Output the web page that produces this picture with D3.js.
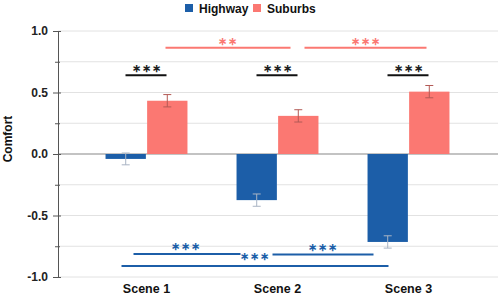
<!DOCTYPE html>
<html>
<head>
<meta charset="utf-8">
<script src="https://cdn.jsdelivr.net/npm/d3@7"></script>
<style>
  body { margin: 0; background: #fff; }
  text { font-family: "Liberation Sans", Arial, sans-serif; }
</style>
</head>
<body>
<div class="chart"></div>
<script>
// data
let scenes = ["Scene 1", "Scene 2", "Scene 3"];
let groups = ["Highway", "Suburbs"];
let highway = [-0.04, -0.375, -0.715];
let highwayErr = [0.048, 0.05, 0.05];
let suburbs = [0.433, 0.31, 0.507];
let suburbsErr = [0.05, 0.05, 0.05];
let yTicks = [-1.0, -0.75, -0.5, -0.25, 0, 0.25, 0.5, 0.75, 1.0];
// significance brackets
let sigWithin = [0.64, 0.64, 0.64];
let sigSuburbs = [
    {from: 0, to: 1, y: 0.864, label: "**"},
    {from: 1, to: 2, y: 0.864, label: "***"}
];
let sigHighway = [
    {from: 0, to: 1, y: -0.813, label: "***", level: 0},
    {from: 1, to: 2, y: -0.818, label: "***", level: 0},
    {from: 0, to: 2, y: -0.91, label: "***", level: 1}
];

let colors = {Highway: "#1c5ea8", Suburbs: "#fb7872"};
let W = 498, H = 296;

let svg = d3.select(".chart")
    .append("svg")
    .attr("width", W)
    .attr("height", H)

let y = d3.scaleLinear().domain([-1, 1]).range([277, 31]);
let x = d3.scaleBand().domain(scenes).range([81, 474]).paddingInner(0).paddingOuter(0);
let xs = d3.scaleBand().domain(groups).range([0, x.bandwidth()]).paddingInner(0.03).paddingOuter(0.59);

// gridlines
svg.append("g")
    .selectAll("line")
    .data(yTicks)
    .enter()
    .append("line")
    .attr("x1", 58)
    .attr("x2", W)
    .attr("y1", d => y(d))
    .attr("y2", d => y(d))
    .attr("stroke", d => d === 0 ? "#888" : "#e2e2e2")
    .attr("stroke-width", d => d === 0 ? 1.2 : 1)

// y axis
let isMajor = d => Math.abs(d * 2) % 1 === 0;
let yAxis = d3.axisLeft(y)
    .tickValues(yTicks)
    .tickSize(3)
    .tickFormat(d => isMajor(d) ? d3.format(".1f")(d).replace("−", "-") : "")
let ga = svg.append("g")
    .attr("transform", "translate(58,0)")
    .call(yAxis)
ga.select(".domain").attr("stroke", "#555")
ga.selectAll(".tick line").attr("stroke", "#555").attr("x2", d => isMajor(d) ? -5 : -3).attr("x1", d => isMajor(d) ? 3 : 2)
ga.selectAll(".tick text")
    .attr("x", -10)
    .attr("font-size", 12)
    .attr("font-weight", "bold")
    .attr("fill", "#222")
    .style("font-family", "'Liberation Sans', Arial, sans-serif")

// bars
let barData = [];
scenes.forEach(function (s, i) {
    barData.push({scene: s, group: "Highway", value: highway[i], err: highwayErr[i]});
    barData.push({scene: s, group: "Suburbs", value: suburbs[i], err: suburbsErr[i]});
})

svg.append("g")
    .selectAll("rect")
    .data(barData)
    .enter()
    .append("rect")
    .attr("x", d => x(d.scene) + xs(d.group))
    .attr("width", xs.bandwidth())
    .attr("y", d => y(Math.max(0, d.value)))
    .attr("height", d => Math.abs(y(d.value) - y(0)))
    .attr("fill", d => colors[d.group])

// error bars
let eb = svg.append("g")
    .selectAll("g")
    .data(barData)
    .enter()
    .append("g")
    .attr("stroke", d => d.group === "Highway" ? "#a9b4c4" : "#b35a55")
    .attr("stroke-width", 1)
eb.append("line")
    .attr("x1", d => x(d.scene) + xs(d.group) + xs.bandwidth() / 2)
    .attr("x2", d => x(d.scene) + xs(d.group) + xs.bandwidth() / 2)
    .attr("y1", d => y(d.value + d.err))
    .attr("y2", d => y(d.value - d.err))
eb.selectAll(".cap")
    .data(d => [d.value + d.err, d.value - d.err].map(v => ({d: d, v: v})))
    .enter()
    .append("line")
    .attr("x1", e => x(e.d.scene) + xs(e.d.group) + xs.bandwidth() / 2 - 4)
    .attr("x2", e => x(e.d.scene) + xs(e.d.group) + xs.bandwidth() / 2 + 4)
    .attr("y1", e => y(e.v))
    .attr("y2", e => y(e.v))

// significance marks
function centerOf(i) { return x(scenes[i]) + x.bandwidth() / 2; }
function addStars(g, cx, cy, label, color) {
    g.append("text")
        .attr("x", cx)
        .attr("y", cy)
        .attr("text-anchor", "middle")
        .attr("font-size", 11)
        .attr("font-weight", "bold")
        .attr("letter-spacing", 1)
        .attr("fill", color)
        .text(label.replace(/\*/g, "\u2217"))
}

let sg = svg.append("g");
sigWithin.forEach(function (v, i) {
    let cx = centerOf(i);
    sg.append("line")
        .attr("x1", cx - 21).attr("x2", cx + 20)
        .attr("y1", y(v)).attr("y2", y(v))
        .attr("stroke", "#111").attr("stroke-width", 2)
    addStars(sg, cx, y(v) - 3, "***", "#222")
})
sigSuburbs.forEach(function (s) {
    let x1 = s.from === 0 ? centerOf(0) + 19 : centerOf(1) + 27;
    let x2 = s.from === 0 ? centerOf(1) + 13 : centerOf(2) + 18;
    sg.append("line")
        .attr("x1", x1).attr("x2", x2)
        .attr("y1", y(s.y)).attr("y2", y(s.y))
        .attr("stroke", colors.Suburbs).attr("stroke-width", 2)
    addStars(sg, (x1 + x2) / 2, y(s.y) - 3, s.label, colors.Suburbs)
})
sigHighway.forEach(function (s) {
    let x1, x2;
    if (s.level === 1) { x1 = centerOf(0) - 25; x2 = centerOf(2) - 20; }
    else if (s.from === 0) { x1 = centerOf(0) - 13; x2 = centerOf(1) - 37; }
    else { x1 = centerOf(1) - 5; x2 = centerOf(2) - 35; }
    sg.append("line")
        .attr("x1", x1).attr("x2", x2)
        .attr("y1", y(s.y)).attr("y2", y(s.y))
        .attr("stroke", colors.Highway).attr("stroke-width", 2)
    let sx = s.level === 1 ? (x1 + x2) / 2 : (s.from === 0 ? centerOf(0) + 39 : centerOf(1) + 45);
    let sy = s.level === 1 ? y(s.y) - 6 : y(s.y) - 4;
    addStars(sg, sx, sy, s.label, colors.Highway)
})

// x labels
svg.append("g")
    .selectAll("text")
    .data(scenes)
    .enter()
    .append("text")
    .attr("x", d => x(d) + x.bandwidth() / 2)
    .attr("y", 293)
    .attr("text-anchor", "middle")
    .attr("font-size", 12.5)
    .attr("font-weight", "bold")
    .attr("fill", "#111")
    .text(d => d)

// y label
svg.append("text")
    .attr("transform", "translate(12,139) rotate(-90)")
    .attr("text-anchor", "middle")
    .attr("font-size", 12)
    .attr("font-weight", "bold")
    .attr("fill", "#111")
    .text("Comfort")

// legend
let lg = svg.append("g")
    .selectAll("g")
    .data(groups)
    .enter()
    .append("g")
    .attr("transform", (d, i) => "translate(" + (185 + i * 68) + ",4)")
lg.append("rect")
    .attr("width", 8)
    .attr("height", 8)
    .attr("fill", d => colors[d])
lg.append("text")
    .attr("x", 14)
    .attr("y", 8.5)
    .attr("font-size", 12)
    .attr("font-weight", "bold")
    .attr("fill", "#111")
    .text(d => d)
</script>
</body>
</html>
